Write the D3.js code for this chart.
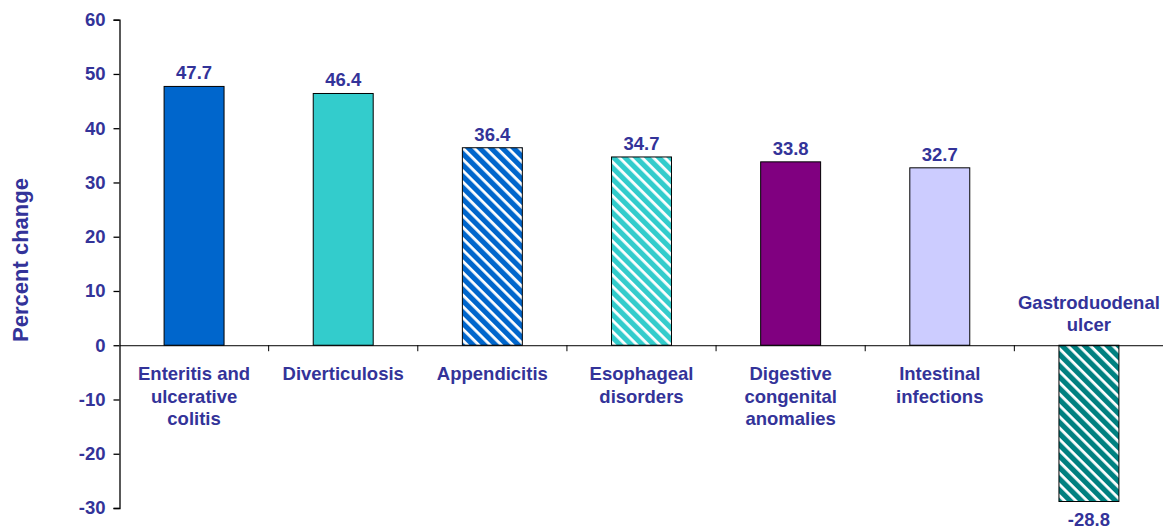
<!DOCTYPE html>
<html>
<head>
<meta charset="utf-8">
<script src="https://cdn.jsdelivr.net/npm/d3@7"></script>
<style>
  html, body { margin: 0; padding: 0; background: #fff; }
  svg { display: block; font-family: "Liberation Sans", Arial, sans-serif; }
</style>
</head>
<body>
<svg id="chart" width="1163" height="529"></svg>
<script>
const categories = [
  ["Enteritis and", "ulcerative", "colitis"],
  ["Diverticulosis"],
  ["Appendicitis"],
  ["Esophageal", "disorders"],
  ["Digestive", "congenital", "anomalies"],
  ["Intestinal", "infections"],
  ["Gastroduodenal", "ulcer"]
];
const values = [47.7, 46.4, 36.4, 34.7, 33.8, 32.7, -28.8];
const barColors = ["#0066CC", "#33CCCC", "#0066CC", "#33CCCC", "#800080", "#CCCCFF", "#008080"];
const hatched = [false, false, true, true, false, false, true];
const yTicks = [-30, -20, -10, 0, 10, 20, 30, 40, 50, 60];
const yLabel = "Percent change";

const textColor = "#333399";
const svg = d3.select("#chart");

const x = d3.scaleBand().domain(d3.range(values.length)).range([119.5, 1163.5]).padding(0);
const y = d3.scaleLinear().domain([-30, 60]).range([508, 19.7]);
const barW = x.bandwidth() * 0.402;

// patterns
const defs = svg.append("defs");
barColors.forEach((c, i) => {
  if (!hatched[i]) return;
  const p = defs.append("pattern")
    .attr("id", "hatch" + i)
    .attr("patternUnits", "userSpaceOnUse")
    .attr("width", 8).attr("height", 8)
    .attr("patternTransform", "rotate(45)");
  p.append("rect").attr("width", 8).attr("height", 8).attr("fill", c);
  p.append("rect").attr("x", 0).attr("y", 0).attr("width", 8).attr("height", 2.8).attr("fill", "#fff");
});

// bars
svg.append("g").selectAll("rect").data(values).join("rect")
  .attr("x", (d, i) => x(i) + (x.bandwidth() - barW) / 2)
  .attr("y", d => y(Math.max(0, d)))
  .attr("width", barW)
  .attr("height", d => Math.abs(y(d) - y(0)))
  .attr("fill", (d, i) => hatched[i] ? `url(#hatch${i})` : barColors[i])
  .attr("stroke", "#000")
  .attr("stroke-width", 1);

// y axis
const yAxis = d3.axisLeft(y).tickValues(yTicks).tickSize(6).tickPadding(8).tickFormat(d => String(d));
const gy = svg.append("g").attr("transform", "translate(119.5,0)").call(yAxis);
gy.select(".domain").attr("stroke", "#000").attr("stroke-width", 1.3);
gy.selectAll(".tick line").attr("stroke", "#000").attr("stroke-width", 1.3);
gy.selectAll(".tick text")
  .attr("fill", textColor).attr("font-size", 18.5).attr("font-weight", "bold")
  .attr("font-family", "Liberation Sans, Arial, sans-serif");

// zero axis with category ticks at band boundaries
const xAxis = d3.axisBottom(x).tickSize(0).tickFormat("");
const gx = svg.append("g").attr("transform", `translate(0,${y(0)})`).call(xAxis);
gx.select(".domain").attr("stroke", "#000").attr("stroke-width", 1);
gx.selectAll(".tick").remove();
const boundaries = d3.range(1, values.length).map(i => x(i));
gx.selectAll("line.sep").data(boundaries).join("line")
  .attr("class", "sep")
  .attr("x1", d => d).attr("x2", d => d)
  .attr("y1", 0).attr("y2", 6)
  .attr("stroke", "#000").attr("stroke-width", 1);

// value labels
svg.append("g").selectAll("text").data(values).join("text")
  .attr("x", (d, i) => x(i) + x.bandwidth() / 2)
  .attr("y", d => d >= 0 ? y(d) - 7 : y(d) + 25)
  .attr("text-anchor", "middle")
  .attr("fill", textColor).attr("font-size", 18.5).attr("font-weight", "bold")
  .text(d => d.toFixed(1));

// category labels
const lineH = 22.5;
const catG = svg.append("g");
categories.forEach((lines, i) => {
  const v = values[i];
  const cx = x(i) + x.bandwidth() / 2;
  const startY = v >= 0 ? y(0) + 35 : y(0) - 14 - (lines.length - 1) * lineH;
  const t = catG.append("text")
    .attr("text-anchor", "middle")
    .attr("fill", textColor).attr("font-size", 18.5).attr("font-weight", "bold");
  lines.forEach((ln, k) => {
    t.append("tspan").attr("x", cx).attr("y", startY + k * lineH).text(ln);
  });
});

// y axis title
svg.append("text")
  .attr("transform", `translate(28,${260}) rotate(-90)`)
  .attr("text-anchor", "middle")
  .attr("fill", textColor).attr("font-size", 22).attr("font-weight", "bold")
  .text(yLabel);
</script>
</body>
</html>
